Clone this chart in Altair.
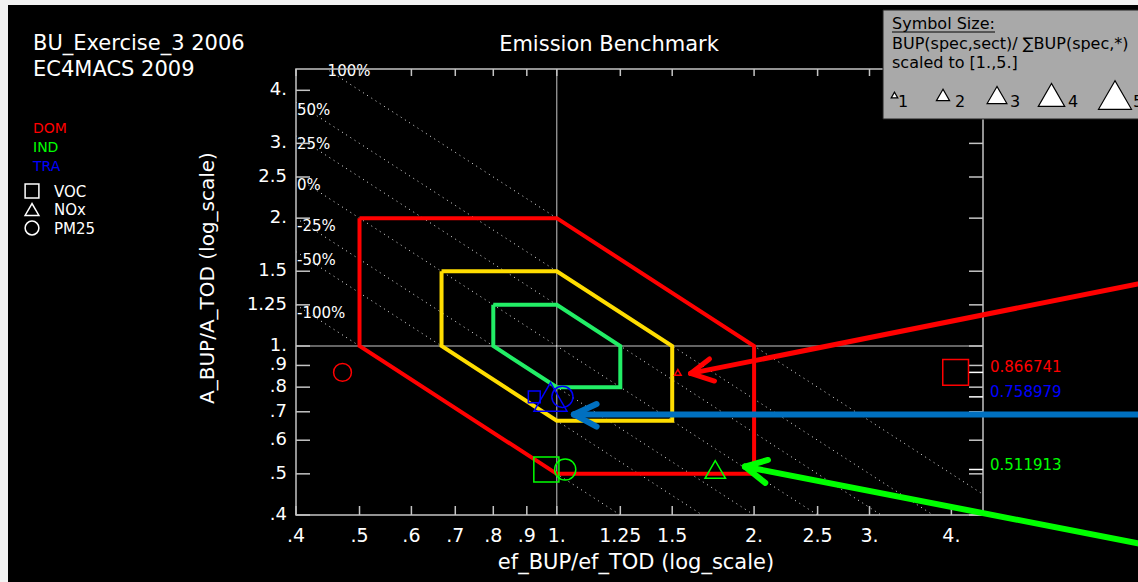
import altair as alt
import pandas as pd

# ---------------- values ----------------
sectors = ["DOM", "IND", "TRA"]
sector_colors = ["#ff0000", "#00ff00", "#0000ff"]
area_ratio = [0.866741, 0.511913, 0.758979]          # A_BUP/A_TOD per sector
area_text = ["0.866741", "0.511913", "0.758979"]

species = ["VOC", "NOx", "PM25"]
species_shapes = ["square", "triangle-up", "circle"]

ef_DOM = [4.06, 1.53, 0.471]                          # ef_BUP/ef_TOD
ef_IND = [0.964, 1.745, 1.03]
ef_TRA = [0.924, 0.978, 1.02]
symsize_DOM = [3.9, 1.0, 2.7]                          # scaled to [1.,5.]
symsize_IND = [3.8, 3.1, 3.2]
symsize_TRA = [1.8, 5.0, 3.2]

tick_values = [0.4, 0.5, 0.6, 0.7, 0.8, 0.9, 1.0, 1.25, 1.5, 2.0, 2.5, 3.0, 4.0]
tick_labels = [".4", ".5", ".6", ".7", ".8", ".9", "1.", "1.25", "1.5", "2.", "2.5", "3.", "4."]

iso_products = [2.0, 1.5, 1.25, 1.0, 0.8, 0.667, 0.5]
iso_labels = ["100%", "50%", "25%", "0%", "-25%", "-50%", "-100%"]

bench_red_x = [0.5, 1.0, 2.0, 2.0, 1.0, 0.5, 0.5]
bench_red_y = [2.0, 2.0, 1.0, 0.5, 0.5, 1.0, 2.0]
bench_yellow_x = [0.667, 1.0, 1.5, 1.5, 1.0, 0.667, 0.667]
bench_yellow_y = [1.5, 1.5, 1.0, 0.667, 0.667, 1.0, 1.5]
bench_green_x = [0.8, 1.0, 1.25, 1.25, 1.0, 0.8, 0.8]
bench_green_y = [1.25, 1.25, 1.0, 0.8, 0.8, 1.0, 1.25]

legend_sizes = [1, 2, 3, 4, 5]
legend_size_labels = ["1", "2", "3", "4", "5"]

# annotation arrows (start, tip, two barb ends) in data units
arrow_start_x = [7.7, 7.7, 7.7]
arrow_start_y = [1.40, 0.690, 0.343]
arrow_tip_x = [1.60, 1.062, 1.937]
arrow_tip_y = [0.862, 0.690, 0.520]
arrow_b1_x = [1.71, 1.150, 2.10]
arrow_b1_y = [0.932, 0.730, 0.539]
arrow_b2_x = [1.74, 1.150, 2.08]
arrow_b2_y = [0.827, 0.646, 0.476]

# ---------------- styles / layout ----------------
arrow_colors = ["#ff0000", "#0070c0", "#00ff00"]
arrow_widths = [5, 6, 6]
bench_colors = ["#ff0000", "#ffdd00", "#22ee66"]
FONT = "DejaVu Sans"
W, H = 687, 446
L, T = 296, 69
FRAME = "#c4c4c4"


def px(x):
    return x - L


def py(y):
    return y - T


xs = alt.Scale(type="log", domain=[0.4, 4.47], nice=False)
ys = alt.Scale(type="log", domain=[0.4, 4.49], nice=False)
one = pd.DataFrame({"d": [0]})
layers = []


def add_text(s, x, y, color="white", size=15, align="left", baseline="alphabetic", angle=None):
    kw = dict(text=s, color=color, fontSize=size, font=FONT, align=align, baseline=baseline)
    if angle is not None:
        kw["angle"] = angle
    layers.append(alt.Chart(one).mark_text(**kw).encode(x=alt.value(px(x)), y=alt.value(py(y))))


# background (black panel inside a light page border)
layers.append(alt.Chart(one).mark_rect(color="black").encode(
    x=alt.value(px(8)), x2=alt.value(px(1140)), y=alt.value(py(5)), y2=alt.value(py(584))))

# reference lines at 1
ones = pd.DataFrame({"v": [1.0]})
layers.append(alt.Chart(ones).mark_rule(color="#c8c8c8", strokeWidth=1).encode(
    x=alt.X("v:Q", scale=xs, axis=None), y=alt.value(0), y2=alt.value(H)))
layers.append(alt.Chart(ones).mark_rule(color="#c8c8c8", strokeWidth=1).encode(
    y=alt.Y("v:Q", scale=ys, axis=None), x=alt.value(0), x2=alt.value(W)))

# iso-emission dotted lines (x*y = const)
iso_rows = []
for p, lab in zip(iso_products, iso_labels):
    iso_rows.append({"p": p, "lab": lab, "x": 0.1, "y": p / 0.1})
    iso_rows.append({"p": p, "lab": lab, "x": 20.0, "y": p / 20.0})
iso_df = pd.DataFrame(iso_rows)
layers.append(alt.Chart(iso_df).mark_line(clip=True, color="#e6e6e6", strokeWidth=1, strokeDash=[1, 4]).encode(
    x=alt.X("x:Q", scale=xs, axis=None), y=alt.Y("y:Q", scale=ys, axis=None), detail="p:N"))

ymax = 4.49
lab_rows = []
for p, lab in zip(iso_products, iso_labels):
    x0 = max(0.4, p / ymax)
    lab_rows.append({"lab": lab, "x": x0, "y": p / x0, "top": x0 > 0.4})
lab_df = pd.DataFrame(lab_rows)
layers.append(alt.Chart(lab_df).transform_filter("!datum.top").mark_text(
    color="white", font=FONT, fontSize=15, align="left", baseline="top", dx=1, dy=1).encode(
    x=alt.X("x:Q", scale=xs, axis=None), y=alt.Y("y:Q", scale=ys, axis=None), text="lab:N"))
layers.append(alt.Chart(lab_df).transform_filter("datum.top").mark_text(
    color="white", font=FONT, fontSize=15, align="left", baseline="middle", dx=1, dy=2).encode(
    x=alt.X("x:Q", scale=xs, axis=None), y=alt.Y("y:Q", scale=ys, axis=None), text="lab:N"))

# benchmark corridors
bench_rows = []
for name, bx, by, col in [("red", bench_red_x, bench_red_y, bench_colors[0]),
                          ("yellow", bench_yellow_x, bench_yellow_y, bench_colors[1]),
                          ("green", bench_green_x, bench_green_y, bench_colors[2])]:
    for k, (a, b) in enumerate(zip(bx, by)):
        bench_rows.append({"poly": name, "k": k, "x": a, "y": b, "c": col})
bench_df = pd.DataFrame(bench_rows)
for name in ["red", "yellow", "green"]:
    layers.append(alt.Chart(bench_df[bench_df.poly == name]).mark_line(strokeWidth=4, strokeJoin="miter").encode(
        x=alt.X("x:Q", scale=xs, axis=None), y=alt.Y("y:Q", scale=ys, axis=None),
        order="k:Q", color=alt.Color("c:N", scale=None)))

# frame
layers.append(alt.Chart(one).mark_rect(fillOpacity=0, stroke=FRAME, strokeWidth=1.5).encode(
    x=alt.value(0), x2=alt.value(W), y=alt.value(0), y2=alt.value(H)))

# tick marks (inside, on all four sides)
tick_df = pd.DataFrame({"v": tick_values, "lab": tick_labels})
layers.append(alt.Chart(tick_df).mark_rule(color=FRAME, strokeWidth=1.5).encode(
    x=alt.X("v:Q", scale=xs, axis=None), y=alt.value(H), y2=alt.value(H - 9)))
layers.append(alt.Chart(tick_df).mark_rule(color=FRAME, strokeWidth=1.5).encode(
    x=alt.X("v:Q", scale=xs, axis=None), y=alt.value(0), y2=alt.value(7)))
layers.append(alt.Chart(tick_df).mark_rule(color=FRAME, strokeWidth=1.5).encode(
    y=alt.Y("v:Q", scale=ys, axis=None), x=alt.value(0), x2=alt.value(14)))
layers.append(alt.Chart(tick_df).mark_rule(color=FRAME, strokeWidth=1.5).encode(
    y=alt.Y("v:Q", scale=ys, axis=None), x=alt.value(W), x2=alt.value(W - 14)))
area_df = pd.DataFrame({"sector": sectors, "ratio": area_ratio, "txt": area_text, "c": sector_colors})
layers.append(alt.Chart(area_df).mark_rule(color="white", strokeWidth=1.5).encode(
    y=alt.Y("ratio:Q", scale=ys, axis=None), x=alt.value(W), x2=alt.value(W - 14)))

# tick labels
layers.append(alt.Chart(tick_df).mark_text(color="white", font=FONT, fontSize=19, align="center", baseline="middle").encode(
    x=alt.X("v:Q", scale=xs, axis=None), y=alt.value(H + 21), text="lab:N"))
layers.append(alt.Chart(tick_df).mark_text(color="white", font=FONT, fontSize=18, align="right", baseline="middle").encode(
    y=alt.Y("v:Q", scale=ys, axis=None), x=alt.value(-9), text="lab:N"))

# sector area-ratio labels on the right
layers.append(alt.Chart(area_df).mark_text(font=FONT, fontSize=15, align="left", baseline="alphabetic").encode(
    y=alt.Y("ratio:Q", scale=ys, axis=None), x=alt.value(px(990)), text="txt:N",
    color=alt.Color("c:N", scale=None)))

# data symbols
ef_map = {"DOM": ef_DOM, "IND": ef_IND, "TRA": ef_TRA}
ss_map = {"DOM": symsize_DOM, "IND": symsize_IND, "TRA": symsize_TRA}
sym_rows = []
for i, s in enumerate(sectors):
    for j, sp in enumerate(species):
        sym_rows.append({"sector": s, "species": sp, "ef": ef_map[s][j], "ratio": area_ratio[i],
                         "ss": ss_map[s][j], "c": sector_colors[i], "shape": species_shapes[j]})
sym_df = pd.DataFrame(sym_rows)
layers.append(alt.Chart(sym_df).transform_calculate(area="pow(6.6*datum.ss, 2)").mark_point(
    filled=False, strokeWidth=1.5, opacity=1).encode(
    x=alt.X("ef:Q", scale=xs, axis=None), y=alt.Y("ratio:Q", scale=ys, axis=None),
    shape=alt.Shape("shape:N", scale=None), size=alt.Size("area:Q", scale=None),
    color=alt.Color("c:N", scale=None)))

# axis titles and headings
add_text("ef_BUP/ef_TOD (log_scale)", 636, 563, size=21, align="center", baseline="middle")
add_text("A_BUP/A_TOD (log_scale)", 208, 278, size=20, align="center", baseline="middle", angle=270)
add_text("Emission Benchmark", 609, 51, size=21, align="center")
add_text("BU_Exercise_3 2006", 33, 50, size=21)
add_text("EC4MACS 2009", 33, 76, size=21)

# sector legend
for i, (s, c) in enumerate(zip(sectors, sector_colors)):
    add_text(s, 33, 133 + 19 * i, color=c, size=14)
# species legend
for i, (sp, shp) in enumerate(zip(species, species_shapes)):
    layers.append(alt.Chart(one).mark_point(shape=shp, size=190, filled=False, color="white",
                                            strokeWidth=1.5, opacity=1).encode(
        x=alt.value(px(32)), y=alt.value(py(191 + 18.5 * i))))
    add_text(sp, 54, 196.5 + 18.5 * i, size=15)

# symbol size box
layers.append(alt.Chart(one).mark_rect(color="#a9a9a9", stroke="#202020", strokeWidth=1).encode(
    x=alt.value(px(883)), x2=alt.value(px(1145)), y=alt.value(py(10)), y2=alt.value(py(119))))
add_text("Symbol Size:", 892, 29, color="black", size=16)
layers.append(alt.Chart(one).mark_rule(color="black", strokeWidth=1).encode(
    x=alt.value(px(892)), x2=alt.value(px(995)), y=alt.value(py(32)), y2=alt.value(py(32))))
add_text("BUP(spec,sect)/ \u2211BUP(spec,*)", 892, 49, color="black", size=16)
add_text("scaled to [1.,5.]", 892, 68, color="black", size=16)
leg_x = [894.5, 943, 997, 1051.5, 1115]
leg_lab_x = [898, 955, 1010, 1068, 1133]
for s, lx, tx, t in zip(legend_sizes, leg_x, leg_lab_x, legend_size_labels):
    layers.append(alt.Chart(one).mark_point(shape="triangle-up", size=(6.6 * s) ** 2, filled=True,
                                            fill="white", stroke="black", strokeWidth=1.2, opacity=1).encode(
        x=alt.value(px(lx)), y=alt.value(py(95))))
    add_text(t, tx, 107, color="black", size=16)

# annotation arrows
seg_rows = []
for k in range(3):
    for (ax, ay) in [(arrow_start_x[k], arrow_start_y[k]), (arrow_b1_x[k], arrow_b1_y[k]),
                     (arrow_b2_x[k], arrow_b2_y[k])]:
        seg_rows.append({"x0": ax, "y0": ay, "x1": arrow_tip_x[k], "y1": arrow_tip_y[k],
                         "c": arrow_colors[k], "w": arrow_widths[k]})
seg_df = pd.DataFrame(seg_rows)
layers.append(alt.Chart(seg_df).mark_rule(strokeCap="round").encode(
    x=alt.X("x0:Q", scale=xs, axis=None), x2="x1:Q",
    y=alt.Y("y0:Q", scale=ys, axis=None), y2="y1:Q",
    color=alt.Color("c:N", scale=None), strokeWidth=alt.StrokeWidth("w:Q", scale=None)))

chart = alt.layer(*layers).properties(
    width=W, height=H,
    padding={"left": L, "top": T, "right": 1138 - L - W, "bottom": 582 - T - H},
    autosize=alt.AutoSizeParams(type="none"),
    background="#f2f2f2",
).configure_view(stroke=None)

chart.save("out.html", embed_options={"renderer": "svg", "actions": False})
